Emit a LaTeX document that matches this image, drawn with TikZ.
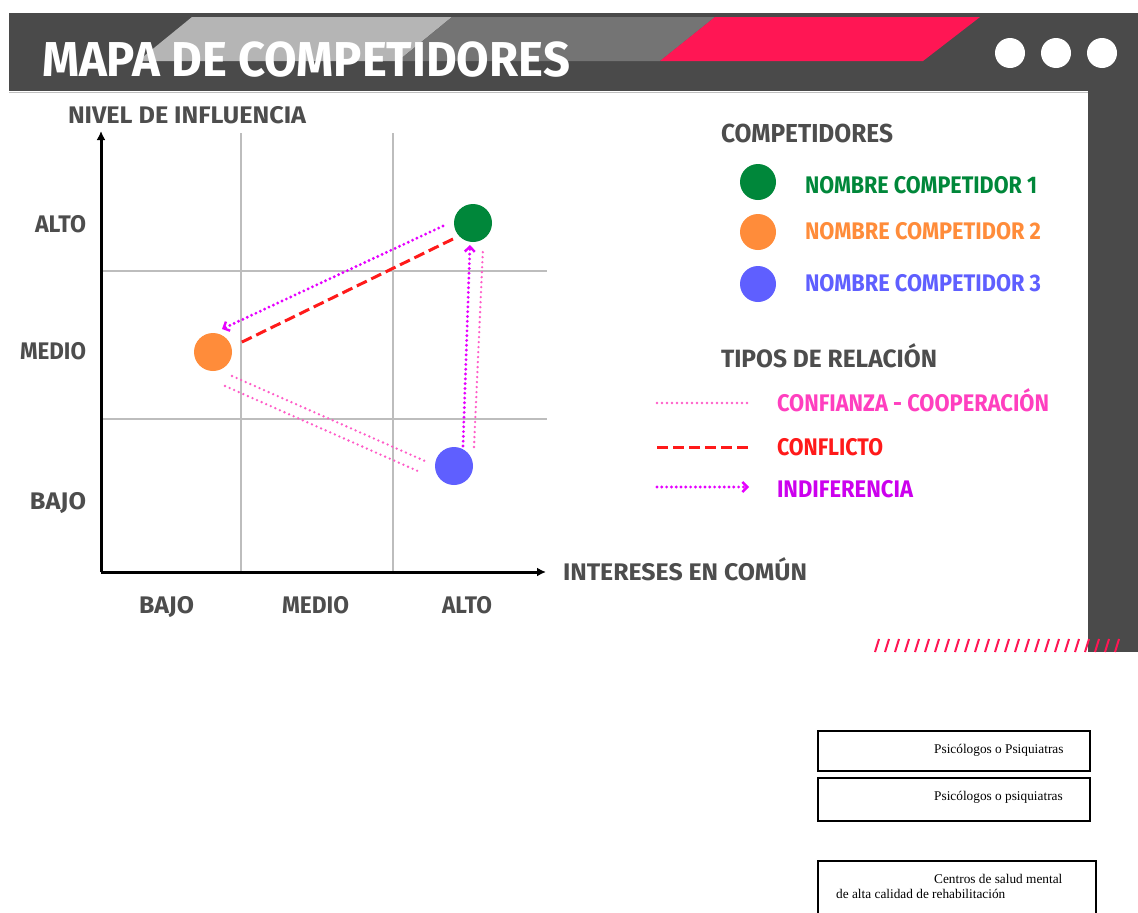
\documentclass[tikz,border=0pt]{standalone}
\usepackage{fontspec}
\usepackage{graphicx}
\setmainfont{Liberation Serif}
\newfontfamily\hdfont{Fira Sans}[UprightFont=* Bold]
\usetikzlibrary{arrows.meta}
\definecolor{barDark}{HTML}{4A4A4A}
\definecolor{lightG}{HTML}{B5B5B5}
\definecolor{midG}{HTML}{747474}
\definecolor{hotPink}{HTML}{FF1654}
\definecolor{txtG}{HTML}{4D4D4D}
\definecolor{gridG}{HTML}{BDBDBD}
\definecolor{cGreen}{HTML}{00873A}
\definecolor{cOrange}{HTML}{FF8C3A}
\definecolor{cBlue}{HTML}{5F5FFF}
\definecolor{relPink}{HTML}{FF5CC8}
\definecolor{relPinkT}{HTML}{FF3FBF}
\definecolor{relRed}{HTML}{FF1A1A}
\definecolor{relMag}{HTML}{E600FF}
\definecolor{relMagT}{HTML}{CC00EE}
\newcommand{\fitw}[2]{\resizebox{#1}{\height}{#2}}
\tikzset{
  lbl/.style={anchor=base west, inner sep=0pt, outer sep=0pt},
  dot/.style={circle, inner sep=0pt, minimum size=38pt, draw=none},
  ldot/.style={circle, inner sep=0pt, minimum size=36pt, draw=none},
  gridline/.style={gridG, line width=2.5pt},
  axisline/.style={black, line width=3pt},
  coop/.style={relPink, line width=2.6pt, line cap=round, dash pattern=on 0pt off 5pt},
  confl/.style={relRed, line width=3pt, dash pattern=on 11pt off 5pt},
  indif/.style={relMag, line width=3.2pt, line cap=round, dash pattern=on 0pt off 4.8pt, -{Straight Barb[length=5pt,width=10pt,line width=2.4pt]}},
  boxst/.style={draw=black, line width=1.6pt, fill=white},
  boxtxt/.style={font=\fontsize{13.3}{15}\selectfont, inner sep=0pt, anchor=base west}
}
\begin{document}
\begin{tikzpicture}[x=1pt,y=-1pt]
\useasboundingbox (0,0) rectangle (1138,913);
\fill[white] (0,0) rectangle (1138,913);
% header
\fill[barDark] (9,13) rectangle (1138,91);
\fill[barDark] (1088,91) rectangle (1138,652);
\draw[gray!50, line width=1pt] (9,92) -- (1088,92);
\fill[lightG] (192,17) -- (452,17) -- (398,61) -- (138,61) -- cycle;
\fill[midG] (452,17) -- (715,17) -- (660,61) -- (398,61) -- cycle;
\fill[hotPink] (715,17) -- (980,17) -- (923,61) -- (660,61) -- cycle;
\fill[white] (1010,53) circle (15);
\fill[white] (1056,53) circle (15);
\fill[white] (1102,53) circle (15);
\node[lbl, text=white, font=\hdfont\fontsize{49}{50}\selectfont] (title) at (42,76) {\fitw{528pt}{MAPA DE COMPETIDORES}};
% grid
\draw[gridline] (241,133) -- (241,572);
\draw[gridline] (393,133) -- (393,572);
\draw[gridline] (101,271) -- (547,271);
\draw[gridline] (101,419) -- (547,419);
% axes
\coordinate (origin) at (101,572);
\coordinate (ytop) at (101,131);
\coordinate (xend) at (546,572);
\draw[axisline, -{Latex[length=9pt,width=9pt]}] (origin) -- (ytop);
\draw[axisline, -{Latex[length=9pt,width=9pt]}] (origin) -- (xend);
% axis labels
\begin{scope}[every node/.style={lbl, text=txtG, font=\hdfont\fontsize{24}{26}\selectfont}]
\node (ylab) at (68,123) {\fitw{238pt}{NIVEL DE INFLUENCIA}};
\node (yalto) at (35,232) {\fitw{51pt}{ALTO}};
\node (ymedio) at (20,359) {\fitw{66pt}{MEDIO}};
\node (ybajo) at (30,509) {\fitw{56pt}{BAJO}};
\node (xbajo) at (139,613) {\fitw{55pt}{BAJO}};
\node (xmedio) at (282,613) {\fitw{67pt}{MEDIO}};
\node (xalto) at (442,613) {\fitw{50pt}{ALTO}};
\node (xlab) at (563,580) {\fitw{244pt}{INTERESES EN COMÚN}};
\end{scope}
% competitors on the map
\node[dot, fill=cGreen] (c1) at (473,223) {};
\node[dot, fill=cOrange] (c2) at (213,352) {};
\node[dot, fill=cBlue] (c3) at (454,466) {};
% relation endpoints
\coordinate (m1s) at (443,226);
\coordinate (m1e) at (222,329);
\coordinate (r1s) at (453,239);
\coordinate (r1e) at (240,343);
\coordinate (p1s) at (232,376);
\coordinate (p1e) at (425,461);
\coordinate (p2s) at (225,386);
\coordinate (p2e) at (420,472);
\coordinate (m2s) at (463,446);
\coordinate (m2e) at (470,245);
\coordinate (p3s) at (474,447);
\coordinate (p3e) at (483,248);
\draw[indif] (m1s) -- (m1e);
\draw[confl] (r1s) -- (r1e);
\draw[coop] (p1s) -- (p1e);
\draw[coop] (p2s) -- (p2e);
\draw[indif] (m2s) -- (m2e);
\draw[coop] (p3s) -- (p3e);
% legend
\node[lbl, text=txtG, font=\hdfont\fontsize{26}{28}\selectfont] (legc) at (721,142) {\fitw{172pt}{COMPETIDORES}};
\node[ldot, fill=cGreen] (l1) at (758,182) {};
\node[ldot, fill=cOrange] (l2) at (758,232) {};
\node[ldot, fill=cBlue] (l3) at (758,284) {};
\begin{scope}[every node/.style={lbl, font=\hdfont\fontsize{24}{26}\selectfont}]
\node[text=cGreen] (t1) at (805,193) {\fitw{232pt}{NOMBRE COMPETIDOR 1}};
\node[text=cOrange] (t2) at (805,239) {\fitw{236pt}{NOMBRE COMPETIDOR 2}};
\node[text=cBlue] (t3) at (805,291) {\fitw{236pt}{NOMBRE COMPETIDOR 3}};
\end{scope}
\node[lbl, text=txtG, font=\hdfont\fontsize{25}{27}\selectfont] (legr) at (721,367) {\fitw{216pt}{TIPOS DE RELACIÓN}};
\coordinate (lc1) at (657,403);
\coordinate (lc2) at (749,403);
\coordinate (lr1) at (657,447);
\coordinate (lr2) at (749,447);
\coordinate (li1) at (657,487);
\coordinate (li2) at (749,487);
\draw[coop] (lc1) -- (lc2);
\draw[confl] (lr1) -- (lr2);
\draw[indif] (li1) -- (li2);
\begin{scope}[every node/.style={lbl, font=\hdfont\fontsize{24}{26}\selectfont}]
\node[text=relPinkT] (tc) at (777,411) {\fitw{272pt}{CONFIANZA - COOPERACIÓN}};
\node[text=relRed] (tr) at (777,455) {\fitw{106pt}{CONFLICTO}};
\node[text=relMagT] (ti) at (777,497) {\fitw{136pt}{INDIFERENCIA}};
\end{scope}
% hatch
\foreach \i in {0,...,24} {
  \draw[hotPink, line width=2pt] ({875+10*\i},652) -- ({879+10*\i},639);
}
% text boxes
\node[boxst, minimum width=272pt, minimum height=40pt, anchor=north west] (b1) at (817,730) {};
\node[boxst, minimum width=272pt, minimum height=43pt, anchor=north west] (b2) at (817,777) {};
\node[boxst, minimum width=278pt, minimum height=60pt, anchor=north west] (b3) at (817,860) {};
\node[boxtxt] (bt1) at (934,753) {Psicólogos o Psiquiatras};
\node[boxtxt] (bt2) at (934,800) {Psicólogos o psiquiatras};
\node[boxtxt] (bt3) at (934,883) {Centros de salud mental};
\node[boxtxt] (bt4) at (836,898) {de alta calidad de rehabilitación};
\end{tikzpicture}
\end{document}
